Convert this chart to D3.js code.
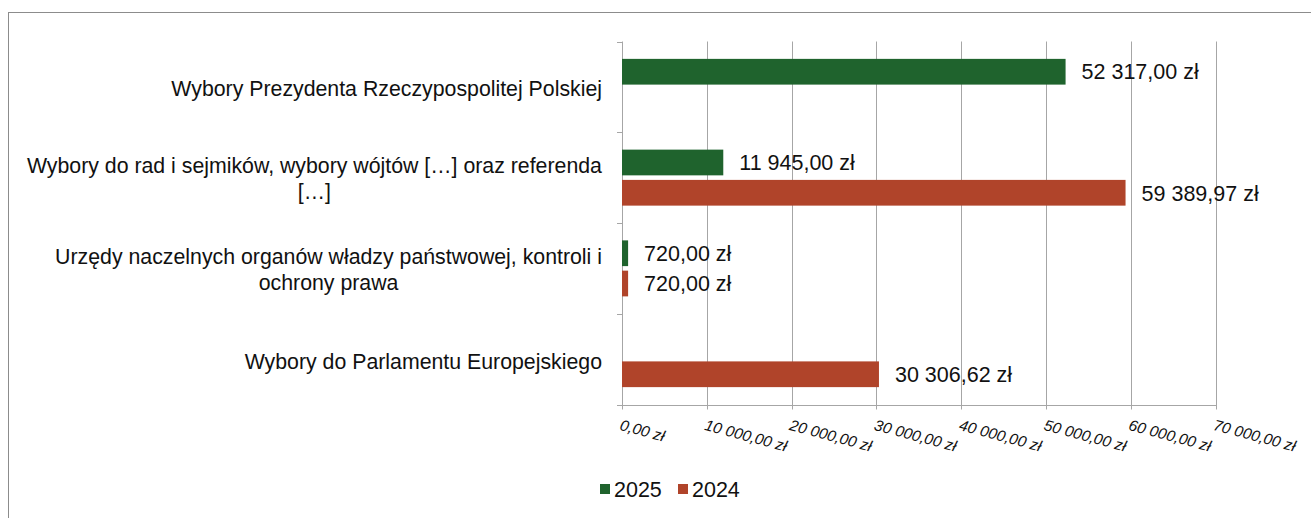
<!DOCTYPE html>
<html>
<head>
<meta charset="utf-8">
<script src="https://cdn.jsdelivr.net/npm/d3@7"></script>
<style>
  body { margin: 0; background: #fff; }
  svg { display: block; font-family: "Liberation Sans", Arial, sans-serif; }
</style>
</head>
<body>
<svg width="1311" height="518"></svg>
<script>
// dane wykresu
const categories = [
  ["Wybory Prezydenta Rzeczypospolitej Polskiej"],
  ["Wybory do rad i sejmików, wybory wójtów […] oraz referenda", "[…]"],
  ["Urzędy naczelnych organów władzy państwowej, kontroli i", "ochrony prawa"],
  ["Wybory do Parlamentu Europejskiego"]
];
const seriesNames = ["2025", "2024"];
const values2025 = [52317.00, 11945.00, 720.00, null];
const values2024 = [null, 59389.97, 720.00, 30306.62];
const xTicks = [0, 10000, 20000, 30000, 40000, 50000, 60000, 70000];
const colors = ["#1f632d", "#b0442a"];

const svg = d3.select('svg');
const width = +svg.attr('width');
const height = +svg.attr('height');
const margin = { top: 41.5, right: 96, bottom: 113.5, left: 622 };

// ramka
svg.append('rect')
  .attr('x', 8.5).attr('y', 12.5)
  .attr('width', width).attr('height', height)
  .attr('fill', 'none').attr('stroke', '#8c8c8c');

const fmt = v => {
  const s = v.toFixed(2).split('.');
  return s[0].replace(/\B(?=(\d{3})+(?!\d))/g, ' ') + ',' + s[1] + ' zł';
};

const x = d3.scaleLinear().domain([0, 70000]).range([margin.left, width - margin.right + 0.5]);
const y = d3.scaleBand().domain(d3.range(categories.length))
  .range([margin.top, height - margin.bottom]);
const sub = d3.scaleBand().domain([0, 1]).range([-28, 28]).paddingInner(0.15);

const g = svg.append('g');

// siatka
g.selectAll('line.grid').data(xTicks).enter().append('line')
  .attr('x1', d => Math.round(x(d)) + 0.5).attr('x2', d => Math.round(x(d)) + 0.5)
  .attr('y1', margin.top).attr('y2', height - margin.bottom + 5)
  .attr('stroke', '#a6a6a6');

// oś Y z kreskami
const yEdges = d3.range(categories.length + 1).map(i => i < categories.length ? y(i) : y(i - 1) + y.bandwidth());
g.selectAll('line.ytick').data(yEdges).enter().append('line')
  .attr('x1', margin.left - 5).attr('x2', margin.left)
  .attr('y1', d => Math.round(d) + 0.5).attr('y2', d => Math.round(d) + 0.5)
  .attr('stroke', '#a6a6a6');
g.append('line')
  .attr('x1', margin.left - 5).attr('x2', Math.round(x(70000)) + 0.5)
  .attr('y1', Math.round(height - margin.bottom) + 0.5).attr('y2', Math.round(height - margin.bottom) + 0.5)
  .attr('stroke', '#a6a6a6');

// słupki
const series = [values2025, values2024];
series.forEach((vals, si) => {
  vals.forEach((v, ci) => {
    if (v == null) return;
    const cy = y(ci) + y.bandwidth() / 2;
    const by = cy + sub(si);
    g.append('rect')
      .attr('x', x(0)).attr('y', by)
      .attr('width', x(v) - x(0)).attr('height', sub.bandwidth())
      .attr('fill', colors[si]);
    g.append('text')
      .attr('x', x(v) + 16).attr('y', by + sub.bandwidth() / 2)
      .attr('dy', '0.36em')
      .attr('font-size', 21.5).attr('fill', '#111')
      .text(fmt(v));
  });
});

// etykiety kategorii
categories.forEach((lines, ci) => {
  const cy = y(ci) + y.bandwidth() / 2 + (ci === 3 ? 2 : 1);
  const t = g.append('text')
    .attr('font-size', 21.3).attr('fill', '#111')
    .attr('text-anchor', 'middle');
  lines.forEach((l, li) => {
    t.append('tspan').attr('x', 0)
      .attr('y', cy + (li - (lines.length - 1) / 2) * 26).attr('dy', '0.36em').text(l);
  });
  const bb = t.node().getBBox();
  t.selectAll('tspan').attr('x', 602 - bb.width / 2);
});

// etykiety osi X
g.selectAll('text.xl').data(xTicks).enter().append('text')
  .attr('transform', d => `translate(${x(d)},${height - margin.bottom + 14}) rotate(15)`)
  .attr('dy', '0.75em')
  .attr('font-size', 15.5).attr('font-style', 'italic').attr('fill', '#111')
  .text(d => fmt(d));

// legenda
const legend = svg.append('g').attr('transform', 'translate(600,484)');
let lx = 0;
seriesNames.forEach((n, i) => {
  legend.append('rect').attr('x', lx).attr('y', 0).attr('width', 10).attr('height', 10).attr('fill', colors[i]);
  legend.append('text').attr('x', lx + 14).attr('y', 5).attr('dy', '0.36em')
    .attr('font-size', 21.5).attr('fill', '#111').text(n);
  lx += 78;
});
</script>
</body>
</html>
